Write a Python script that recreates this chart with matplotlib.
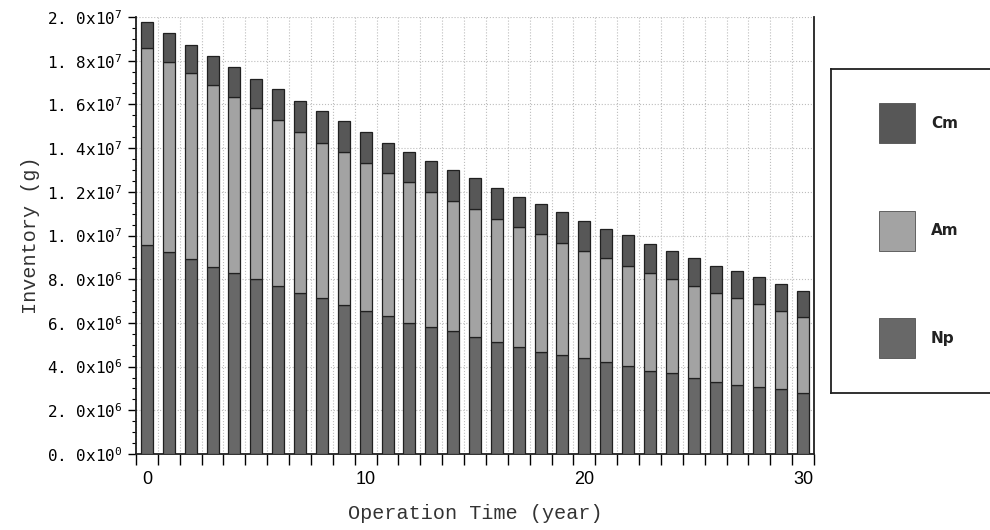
import numpy as np
import matplotlib.pyplot as plt
from matplotlib.patches import Rectangle
from matplotlib.ticker import FuncFormatter, MultipleLocator

# inventory per nuclide, units of 1e6 g, years 0..30
years = list(range(31))
np_vals = [9.57, 9.26, 8.91, 8.57, 8.27, 8.00, 7.69, 7.38, 7.12, 6.84, 6.55,
           6.30, 6.00, 5.83, 5.61, 5.37, 5.14, 4.91, 4.68, 4.53, 4.38,
           4.23, 4.03, 3.81, 3.69, 3.46, 3.31, 3.16, 3.05, 2.96, 2.78]
am_vals = [9.00, 8.69, 8.51, 8.32, 8.08, 7.84, 7.60, 7.37, 7.13, 6.98, 6.75,
           6.56, 6.45, 6.18, 5.98, 5.83, 5.63, 5.47, 5.37, 5.14, 4.91,
           4.73, 4.58, 4.46, 4.32, 4.23, 4.07, 3.96, 3.80, 3.58, 3.50]
cm_vals = [1.19, 1.30, 1.30, 1.32, 1.35, 1.32, 1.41, 1.42, 1.45, 1.40, 1.45,
           1.39, 1.39, 1.41, 1.39, 1.41, 1.40, 1.40, 1.38, 1.39, 1.36,
           1.33, 1.40, 1.36, 1.28, 1.27, 1.24, 1.26, 1.24, 1.24, 1.19]
labels = ["Cm", "Am", "Np"]
colors = {"Cm": "#575757", "Am": "#a3a3a3", "Np": "#686868"}

x = np.array(years)
npv = np.array(np_vals) * 1e6
amv = np.array(am_vals) * 1e6
cmv = np.array(cm_vals) * 1e6

plt.rcParams['mathtext.default'] = 'regular'

fig = plt.figure(figsize=(9.9, 5.3), dpi=100)
ax = fig.add_axes([136 / 990, 1 - 454 / 530, (814 - 136) / 990, (454 - 17) / 530])

w = 0.55
kw = dict(width=w, edgecolor="#202020", linewidth=0.9, zorder=3)
ax.bar(x, npv, color=colors["Np"], **kw)
ax.bar(x, amv, bottom=npv, color=colors["Am"], **kw)
ax.bar(x, cmv, bottom=npv + amv, color=colors["Cm"], **kw)

ax.set_xlim(-0.5, 30.5)
ax.set_ylim(0, 2.0e7)

# x: tick marks between bars, labels under bars
ax.set_xticks(np.arange(-0.5, 31, 1.0))
ax.set_xticklabels([])
ax.set_xticks([0, 10, 20, 30], minor=True)
ax.set_xticklabels(["0", "10", "20", "30"], minor=True,
                   fontsize=13, family="Liberation Sans")
ax.tick_params(axis="x", which="major", length=8, width=1, direction="out")
ax.tick_params(axis="x", which="minor", length=0, pad=12)


def fmt(v, pos):
    if v <= 0:
        return r"0. 0x10$^{0}$"
    e = int(np.floor(np.log10(v) + 1e-9))
    m = v / 10 ** e
    return (r"%.1f" % m).replace(".", ". ") + r"x10$^{%d}$" % e


ax.set_yticks(np.arange(0, 2.01e7, 2e6))
ax.yaxis.set_minor_locator(MultipleLocator(5e5))
ax.yaxis.set_major_formatter(FuncFormatter(fmt))
ax.tick_params(axis="y", which="major", length=6, width=1, labelsize=11.5)
ax.tick_params(axis="y", which="minor", length=3, width=0.8)
for t in ax.get_yticklabels():
    t.set_family("DejaVu Sans Mono")

ax.grid(True, which="major", linestyle=":", color="#bdbdbd", linewidth=0.8)
ax.set_axisbelow(True)
ax.spines["top"].set_visible(False)
for s in ["left", "right", "bottom"]:
    ax.spines[s].set_linewidth(1.3)
    ax.spines[s].set_color("#202020")

ax.set_xlabel("Operation Time (year)", fontsize=14.5, family="Liberation Mono",
              color="#333333", labelpad=12)
ax.set_ylabel("Inventory (g)", fontsize=14.5, family="Liberation Mono",
              color="#333333", labelpad=5)

# legend box drawn by hand, right side
lax = fig.add_axes([831 / 990, 1 - 393 / 530, 0.2, (393 - 69) / 530])
lax.set_xlim(0, 1)
lax.set_ylim(0, 1)
lax.set_xticks([])
lax.set_yticks([])
for s in lax.spines.values():
    s.set_linewidth(1.3)
    s.set_color("#202020")
box_w = 36 / (0.2 * 990)
box_h = 40 / 324
for i, name in enumerate(labels):
    yc = 1 - (123 - 69 + i * 107.5) / 324
    lax.add_patch(Rectangle((48 / 198, yc - box_h / 2), box_w, box_h,
                            facecolor=colors[name], edgecolor="#505050", linewidth=0.6))
    lax.text(100 / 198, yc, name, fontsize=11, va="center", ha="left",
             family="DejaVu Sans", fontweight="bold", color="#222222")

fig.savefig("out.png", dpi=100)
